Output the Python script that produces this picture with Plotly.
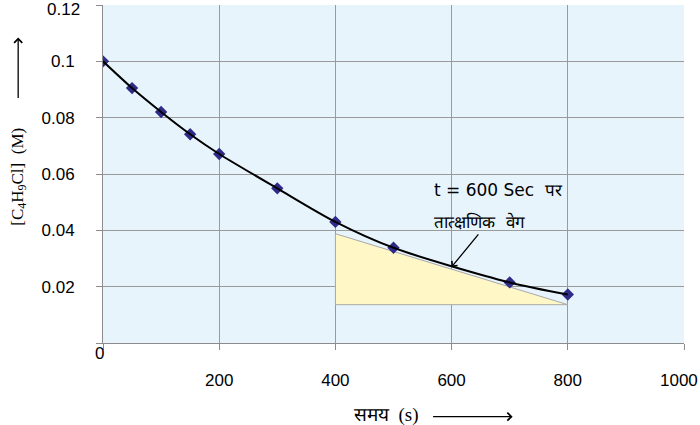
import plotly.graph_objects as go

# ---- data ----
time_s = [0, 50, 100, 150, 200, 300, 400, 500, 700, 800]
conc_M = [0.100, 0.0905, 0.0820, 0.0741, 0.0671, 0.0549, 0.0430, 0.0338, 0.0215, 0.0172]

tangent_x = [400, 800]          # tangent through t = 600 s
tangent_y = [0.0388, 0.0136]

x_ticks = [0, 200, 400, 600, 800, 1000]
x_tick_text = ["", "200", "400", "600", "800", ""]
y_ticks = [0, 0.02, 0.04, 0.06, 0.08, 0.10, 0.12]
y_tick_text = ["", "0.02", "0.04", "0.06", "0.08", "0.1", ""]
x_max_label = "1000"
y_max_label = "0.12"

point_t = 600
point_c = 0.0270

label_line1 = "t = 600 Sec  पर"
label_line2 = "तात्क्षणिक  वेग"
x_title = "समय  (s)"
y_title = "[C<sub>4</sub>H<sub>9</sub>Cl]  (M)"

# ---- figure ----
fig = go.Figure()

# yellow triangle under tangent
tri_x = [tangent_x[0], tangent_x[1], tangent_x[0], tangent_x[0]]
tri_y = [tangent_y[0], tangent_y[1], tangent_y[1], tangent_y[0]]
fig.add_trace(go.Scatter(x=tri_x, y=tri_y, mode="lines", fill="toself",
                         fillcolor="#FFF7C6", line=dict(color="#A8A8A8", width=1),
                         hoverinfo="skip", showlegend=False))

fig.add_trace(go.Scatter(x=time_s, y=conc_M, mode="markers",
                         marker=dict(symbol="diamond", size=9.5, color="#2F2A88",
                                     line=dict(width=0)),
                         showlegend=False))
fig.add_trace(go.Scatter(x=time_s, y=conc_M, mode="lines",
                         line=dict(color="black", width=2, shape="spline", smoothing=0.8),
                         hoverinfo="skip", showlegend=False))

tick_font = dict(family="Liberation Sans, Arial, sans-serif", size=17, color="black")
serif = "Liberation Serif, Times New Roman, serif"

fig.update_layout(
    width=700, height=425,
    margin=dict(l=103, r=16, t=5, b=82, autoexpand=False),
    paper_bgcolor="white",
    plot_bgcolor="#E8F4FC",
    xaxis=dict(range=[0, 1000], tickvals=x_ticks, ticktext=x_tick_text,
               showgrid=True, gridcolor="#9A9A9A", gridwidth=1,
               zeroline=False, showline=True, linecolor="#8C8C8C", linewidth=1,
               ticks="outside", ticklen=6, tickcolor="#8C8C8C",
               tickfont=tick_font, ticklabelstandoff=16, automargin=False,
               ticklabeloverflow="allow", fixedrange=True),
    yaxis=dict(range=[0, 0.12], tickvals=y_ticks, ticktext=y_tick_text,
               showgrid=True, gridcolor="#9A9A9A", gridwidth=1,
               zeroline=False, showline=True, linecolor="#8C8C8C", linewidth=1,
               ticks="outside", ticklen=6, tickcolor="#8C8C8C",
               tickfont=tick_font, ticklabelstandoff=18, automargin=False,
               ticklabeloverflow="allow", fixedrange=True),
)

# corner "0", and edge labels nudged inside the page
fig.add_annotation(x=0, y=0, xref="x", yref="y", text="0", showarrow=False,
                   xanchor="center", yanchor="middle",
                   xshift=-4, yshift=-10, font=tick_font)
fig.add_annotation(x=1000, y=0, xref="x", yref="y", text=x_max_label, showarrow=False,
                   xanchor="center", yanchor="middle",
                   xshift=-5, yshift=-37, font=tick_font)
fig.add_annotation(x=0, y=0.12, xref="x", yref="y", text=y_max_label, showarrow=False,
                   xanchor="right", yanchor="middle",
                   xshift=-21, yshift=-4, font=tick_font)

# callout text
callout_font = dict(family="DejaVu Sans, sans-serif", size=17, color="black")
fig.add_annotation(x=566, y=0.0543, xref="x", yref="y", text=label_line1,
                   showarrow=False, xanchor="left", yanchor="middle", font=callout_font)
fig.add_annotation(x=566, y=0.0430, xref="x", yref="y", text=label_line2,
                   showarrow=False, xanchor="left", yanchor="middle", font=callout_font)
# callout arrow
fig.add_annotation(x=point_t, y=point_c, xref="x", yref="y",
                   ax=28, ay=-34, text="",
                   showarrow=True, arrowhead=4, arrowsize=1.1, arrowwidth=1.3,
                   arrowcolor="black", standoff=0, startstandoff=0)

# y-axis title and arrow
fig.add_annotation(x=-0.146, y=0.4926, xref="paper", yref="paper", text=y_title,
                   textangle=-90, showarrow=False, xanchor="center", yanchor="middle",
                   font=dict(family=serif, size=17, color="black"))
fig.add_annotation(x=-0.146, y=(343.5 - 38) / 338, xref="paper", yref="paper",
                   ax=0, ay=62, text="", showarrow=True, arrowhead=4,
                   arrowsize=1.2, arrowwidth=1.3, arrowcolor="black")

# x-axis title and arrow
fig.add_annotation(x=488, y=-0.212, xref="x", yref="paper", text=x_title,
                   showarrow=False, xanchor="center", yanchor="middle",
                   font=dict(family=serif, size=19, color="black"))
fig.add_annotation(x=705, y=-0.218, xref="x", yref="paper",
                   ax=-81, ay=0, text="", showarrow=True, arrowhead=4,
                   arrowsize=1.2, arrowwidth=1.3, arrowcolor="black")

fig.write_html("out.html", config={"displayModeBar": False},
               post_script="document.body.style.margin='0';document.body.style.overflow='hidden';")
